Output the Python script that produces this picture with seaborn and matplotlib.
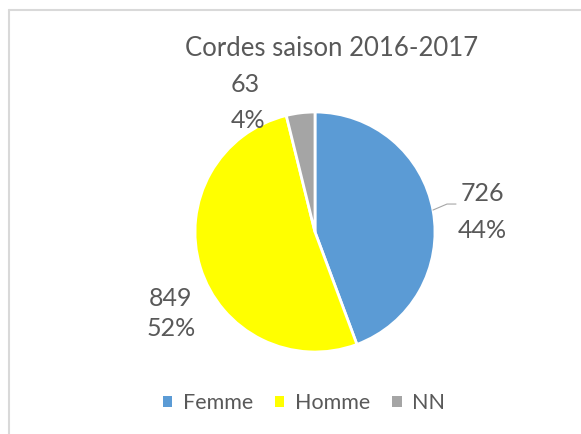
"""Pie chart of string players per gender, season 2016-2017."""

import matplotlib.pyplot as plt
import seaborn as sns
from matplotlib.lines import Line2D
from matplotlib.patches import Patch

CATEGORIES = ["Femme", "Homme", "NN"]
COUNTS = [726, 849, 63]
PERCENT_LABELS = ["44%", "52%", "4%"]
COLORS = ["#5B9BD5", "#FFFF00", "#A5A5A5"]
TITLE = "Cordes saison 2016-2017"

TEXT_COLOR = "#595959"

sns.set_theme(style="white")
plt.rcParams["font.family"] = ["Lato", "DejaVu Sans"]

W, H = 581, 434
fig = plt.figure(figsize=(W / 100, H / 100), dpi=100)


def px(x, y):
    """Pixel position (from top-left) to figure fraction."""
    return x / W, 1 - y / H


# light frame: top and left edges only
for xs, ys in [((9, W), (10, 10)), ((9, 9), (10, H))]:
    (x0, y0), (x1, y1) = px(xs[0], ys[0]), px(xs[1], ys[1])
    fig.add_artist(Line2D([x0, x1], [y0, y1], transform=fig.transFigure,
                          color="#D9D9D9", linewidth=1.5))

# axes sized so that a radius of 1 equals 120 px, centered at (315, 232)
ax = fig.add_axes([135 / W, 22 / H, 360 / W, 360 / H])
ax.pie(
    COUNTS,
    colors=COLORS,
    startangle=90,
    counterclock=False,
    radius=1.0,
    wedgeprops={"edgecolor": "white", "linewidth": 2},
)
ax.set_xlim(-1.5, 1.5)
ax.set_ylim(-1.5, 1.5)
ax.set_aspect("equal")
ax.axis("off")

# label line centres in pixels: (x count, y count, x pct, y pct)
label_px = [(482, 194, 482, 231), (170, 298, 171, 328), (245, 85, 248, 120)]
for (xc, yc, xp, yp), n, pct in zip(label_px, COUNTS, PERCENT_LABELS):
    fig.text(*px(xc, yc), str(n), ha="center", va="center",
             fontsize=18, color=TEXT_COLOR)
    fig.text(*px(xp, yp), pct, ha="center", va="center",
             fontsize=18, color=TEXT_COLOR)

# leader line for the Femme label
ax.plot([0.983, 1.1, 1.175], [0.183, 0.233, 0.233], color="#A6A6A6", linewidth=0.8)

fig.text(*px(332, 48), TITLE, ha="center", va="center",
         fontsize=18.5, color=TEXT_COLOR)

handles = [Patch(facecolor=c, edgecolor="none") for c in COLORS]
fig.legend(handles, CATEGORIES, loc="center", bbox_to_anchor=px(304, 403),
           ncol=3, frameon=False, fontsize=15.5, handlelength=0.45, handleheight=0.45,
           handletextpad=0.5, columnspacing=1.0, labelcolor=TEXT_COLOR)

fig.savefig("out.png", dpi=100)
